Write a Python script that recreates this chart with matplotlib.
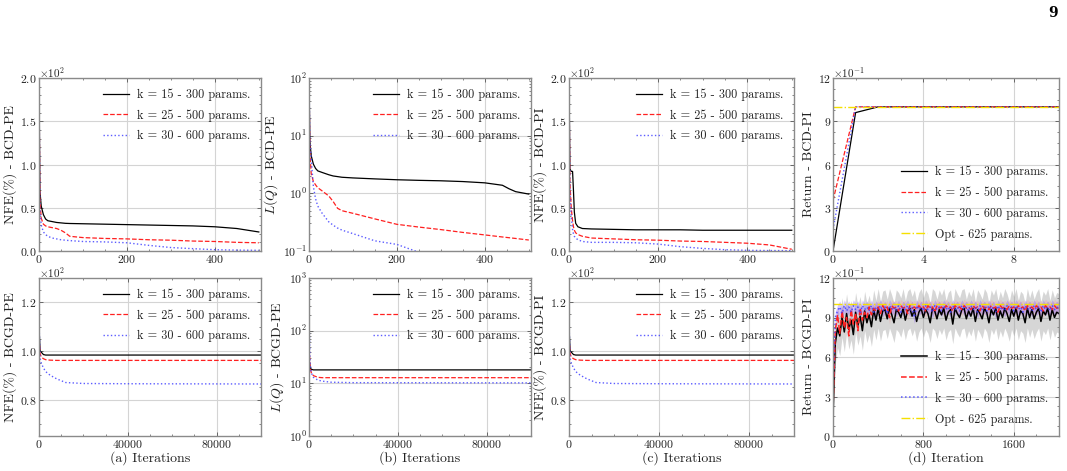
import numpy as np
import matplotlib
matplotlib.use("Agg")
import matplotlib.pyplot as plt
from matplotlib.ticker import MultipleLocator, AutoMinorLocator, ScalarFormatter, LogLocator, NullFormatter

plt.rcParams.update({
    "font.family": "serif",
    "font.serif": ["cmr10", "DejaVu Serif"],
    "mathtext.fontset": "cm",
    "axes.formatter.use_mathtext": True,
    "axes.unicode_minus": False,
    "font.size": 8.5,
})

labels = ["k = 15 - 300 params.",
          "k = 25 - 500 params.",
          "k = 30 - 600 params."]
opt_label = "Opt - 625 params."

# ---- top row: BCD ----
x_bcd_pe = [0, 2, 5, 10, 15, 20, 30, 40, 50, 60, 70, 100, 150, 200, 250, 300, 350, 400, 450, 500]
nfe_pe_k15 = [200, 70, 52, 42, 37, 35, 34, 33, 32.5, 32, 31.8, 31.5, 31, 30.5, 30, 29.5, 29, 28, 26, 22]
nfe_pe_k25 = [200, 60, 38, 31, 29, 28, 27, 26, 24, 21, 17, 15.5, 14.5, 14, 13, 12.5, 11.5, 11, 10, 9.5]
nfe_pe_k30 = [200, 50, 30, 22, 19, 17, 15, 14, 13, 12.5, 12, 11, 10.5, 9.5, 6.5, 4, 2.7, 1.5, 1, 0.8]

x_loss_pe = [0, 2, 5, 10, 15, 20, 30, 45, 55, 65, 75, 100, 150, 200, 250, 300, 350, 400, 440, 455, 470, 500]
loss_pe_k15 = [100, 8, 4.5, 3.2, 2.7, 2.45, 2.3, 2.1, 2.0, 1.95, 1.9, 1.85, 1.78, 1.72, 1.68, 1.65, 1.6, 1.52, 1.38, 1.2, 1.07, 0.97]
loss_pe_k25 = [100, 5, 2.2, 1.6, 1.4, 1.25, 1.1, 0.9, 0.72, 0.55, 0.5, 0.45, 0.36, 0.29, 0.26, 0.235, 0.21, 0.19, 0.175, 0.17, 0.165, 0.155]
loss_pe_k30 = [100, 8, 4, 1.3, 0.8, 0.6, 0.45, 0.32, 0.28, 0.25, 0.23, 0.2, 0.15, 0.13, 0.095, 0.08, 0.07, 0.06, 0.055, 0.05, 0.05, 0.05]

x_bcd_pi = [0, 2, 5, 8, 10, 12, 15, 20, 30, 50, 100, 150, 200, 250, 300, 350, 400, 450, 480, 500]
nfe_pi_k15 = [200, 95, 92, 92, 70, 45, 32, 28, 26, 25.5, 25, 24.5, 24.5, 24.5, 24, 24, 24, 24, 24, 24]
nfe_pi_k25 = [200, 80, 50, 35, 28, 24, 21, 19, 17, 15, 14, 13, 12.5, 11.5, 11, 10, 9, 7, 4, 2]
nfe_pi_k30 = [200, 70, 40, 25, 20, 17, 15, 13, 11, 10, 10, 9.5, 8, 5, 3, 1.5, 0.8, 0.5, 0.5, 0.3]

x_ret_bcd = [0, 1, 2, 3, 4, 5, 6, 7, 8, 9, 10]
ret_bcd_k15 = [0.0, 0.96, 1.0, 1.0, 1.0, 1.0, 1.0, 1.0, 1.0, 1.0, 1.0]
ret_bcd_k25 = [0.35, 1.0, 1.0, 1.0, 1.0, 1.0, 1.0, 1.0, 1.0, 1.0, 1.0]
ret_bcd_k30 = [0.15, 1.0, 1.0, 1.0, 1.0, 1.0, 1.0, 1.0, 1.0, 1.0, 1.0]
ret_bcd_opt = [1.0] * 11

# ---- bottom row: BCGD ----
x_bcgd = [0, 500, 1000, 2000, 3000, 5000, 8000, 12000, 20000, 40000, 100000]
nfe_bcgd_pe_k15 = [110, 100, 99.5, 98.5, 98.3, 98.3, 98.3, 98.3, 98.3, 98.3, 98.3]
nfe_bcgd_pe_k25 = [105, 99, 97.5, 96.8, 96.4, 96.2, 96.1, 96.1, 96.1, 96.1, 96.1]
nfe_bcgd_pe_k30 = [112, 97, 95, 93, 91.5, 90, 88.5, 87, 86.6, 86.5, 86.4]
nfe_bcgd_pi_k15 = [110, 100, 99.5, 98.5, 98.3, 98.3, 98.3, 98.3, 98.3, 98.3, 98.3]
nfe_bcgd_pi_k25 = [105, 99, 97.5, 96.8, 96.4, 96.2, 96.1, 96.1, 96.1, 96.1, 96.1]
nfe_bcgd_pi_k30 = [112, 97, 95, 93, 91.5, 90, 88.5, 87, 86.6, 86.5, 86.4]

x_loss_bcgd = [0, 500, 1000, 2000, 4000, 6000, 10000, 20000, 100000]
loss_bcgd_k15 = [30, 20, 18.5, 18, 18, 18, 18, 18, 18]
loss_bcgd_k25 = [60, 20, 16, 14, 13, 12.8, 12.8, 12.8, 12.8]
loss_bcgd_k30 = [170, 25, 16, 13, 11.5, 11, 10.5, 10.3, 10.2]

x_ret_bcgd = list(range(0, 2001, 20))
ret_bcgd_k15 = [
    0.15, 0.70, 0.82, 0.76, 0.90, 0.79, 0.93, 0.81, 0.88, 0.77, 0.94, 0.84, 0.91, 0.80, 0.95, 0.86, 0.92, 0.83, 0.96, 0.88,
    0.97, 0.87, 0.95, 0.96, 0.89, 0.97, 0.92, 0.86, 0.96, 0.94, 0.90, 0.97, 0.88, 0.95, 0.97, 0.91, 0.96, 0.87, 0.94, 0.97,
    0.90, 0.96, 0.93, 0.86, 0.97, 0.95, 0.89, 0.96, 0.92, 0.97, 0.88, 0.94, 0.96, 0.85, 0.97, 0.93, 0.90, 0.96, 0.97, 0.89,
    0.95, 0.91, 0.97, 0.87, 0.96, 0.93, 0.89, 0.97, 0.94, 0.86, 0.96, 0.92, 0.97, 0.88, 0.95, 0.90, 0.97, 0.93, 0.87, 0.96,
    0.91, 0.97, 0.88, 0.95, 0.93, 0.86, 0.97, 0.90, 0.96, 0.89, 0.94, 0.97, 0.87, 0.95, 0.92, 0.97, 0.88, 0.96, 0.90, 0.94, 0.93]
ret_bcgd_k25 = [
    0.20, 0.80, 0.92, 0.78, 0.95, 0.82, 0.90, 0.76, 0.96, 0.85, 0.93, 0.80, 0.97, 0.88, 0.94, 0.90, 0.98, 0.92, 0.97, 0.95,
    0.98, 0.93, 0.99, 0.96, 0.98, 0.90, 0.99, 0.97, 0.98, 0.95, 0.99, 0.97, 0.98, 0.93, 0.99, 0.97, 0.98, 0.96, 0.99, 0.97,
    0.98, 0.95, 0.99, 0.97, 0.98, 0.94, 0.99, 0.97, 0.98, 0.96, 0.99, 0.97, 0.98, 0.95, 0.99, 0.97, 0.98, 0.96, 0.99, 0.97,
    0.98, 0.96, 0.99, 0.97, 0.98, 0.95, 0.99, 0.97, 0.98, 0.96, 0.99, 0.97, 0.98, 0.94, 0.99, 0.97, 0.98, 0.96, 0.99, 0.97,
    0.98, 0.96, 0.99, 0.97, 0.98, 0.95, 0.99, 0.97, 0.98, 0.96, 0.99, 0.97, 0.98, 0.95, 0.99, 0.97, 0.98, 0.96, 0.99, 0.97, 0.98]
ret_bcgd_k30 = [
    0.35, 0.90, 0.95, 0.98, 0.93, 0.99, 0.95, 0.98, 0.94, 0.99, 0.96, 0.98, 0.93, 0.99, 0.96, 0.98, 0.95, 0.99, 0.94, 0.98,
    0.96, 0.99, 0.95, 0.98, 0.93, 0.99, 0.96, 0.98, 0.95, 0.99, 0.94, 0.98, 0.96, 0.99, 0.95, 0.98, 0.90, 0.99, 0.96, 0.98,
    0.95, 0.99, 0.96, 0.98, 0.94, 0.99, 0.96, 0.98, 0.95, 0.99, 0.96, 0.98, 0.94, 0.99, 0.96, 0.98, 0.95, 0.99, 0.96, 0.98,
    0.95, 0.99, 0.96, 0.98, 0.94, 0.99, 0.96, 0.98, 0.95, 0.99, 0.96, 0.98, 0.94, 0.99, 0.96, 0.98, 0.95, 0.99, 0.96, 0.98,
    0.95, 0.99, 0.96, 0.98, 0.94, 0.99, 0.96, 0.98, 0.95, 0.99, 0.96, 0.98, 0.94, 0.99, 0.96, 0.98, 0.95, 0.99, 0.96, 0.98, 0.96]
ret_bcgd_opt = [1.0] * len(x_ret_bcgd)
std_bcgd_k15 = 0.15
std_bcgd_k25 = 0.05
std_bcgd_k30 = 0.045

# ---- styling ----
W, H = 1067, 471
fig = plt.figure(figsize=(W / 100, H / 100), dpi=100)

cols = [(39, 261), (309, 531), (569, 794), (833, 1059)]
rows = [(78, 251), (278, 436)]

def make_ax(r, c):
    x0, x1 = cols[c]
    y0, y1 = rows[r]
    return fig.add_axes([x0 / W, 1 - y1 / H, (x1 - x0) / W, (y1 - y0) / H])

SP = "#8a8a8a"
TXT = "#222222"
styles = [dict(color="black", ls="-", lw=0.9),
          dict(color="#ff2020", ls="--", lw=0.9),
          dict(color="#4040ff", ls=":", lw=1.0, alpha=0.85)]
opt_style = dict(color="#f5e000", ls="-.", lw=1.0)

def style_ax(ax, log=False):
    for s in ax.spines.values():
        s.set_color(SP)
        s.set_linewidth(1.0)
    ax.tick_params(which="both", direction="in", top=True, right=True, colors="#555555",
                   labelcolor=TXT, labelsize=8.5, pad=1.5)
    ax.tick_params(which="major", length=3, width=0.6)
    ax.tick_params(which="minor", length=1.6, width=0.5)
    ax.grid(True, which="major", color="#d4d4d4", lw=0.8)
    ax.set_axisbelow(True)
    ax.xaxis.set_minor_locator(AutoMinorLocator())
    if not log:
        ax.yaxis.set_minor_locator(AutoMinorLocator())
    ax.yaxis.OFFSETTEXTPAD = 0.5
    ax.yaxis.get_offset_text().set_fontsize(8)
    ax.yaxis.get_offset_text().set_color(TXT)

def sci(ax, p):
    fmt = ScalarFormatter(useMathText=True)
    fmt.set_powerlimits((p, p))
    ax.yaxis.set_major_formatter(fmt)

def legend(ax, loc):
    ax.legend(loc=loc, frameon=False, fontsize=8.8, handlelength=2.1, labelspacing=0.7,
              borderaxespad=0.45, handletextpad=0.7, labelcolor=TXT)

def three(ax, x, ys, lw=None):
    for y, st, lb in zip(ys, styles, labels):
        st = dict(st)
        if lw:
            st["lw"] = lw
        ax.plot(x, y, label=lb, **st)

def ylab(ax, s):
    ax.set_ylabel(s, fontsize=10, color=TXT, labelpad=2)

def xlab(ax, s):
    ax.set_xlabel(s, fontsize=10, color=TXT, labelpad=1)

# (a) top
ax = make_ax(0, 0)
three(ax, x_bcd_pe, [nfe_pe_k15, nfe_pe_k25, nfe_pe_k30])
ax.set_xlim(0, 505); ax.set_ylim(0, 200)
ax.xaxis.set_major_locator(MultipleLocator(200)); ax.yaxis.set_major_locator(MultipleLocator(50))
sci(ax, 2); style_ax(ax)
ylab(ax, "NFE(%) - BCD-PE")
legend(ax, "upper right")

# (b) top
ax = make_ax(0, 1)
three(ax, x_loss_pe, [loss_pe_k15, loss_pe_k25, loss_pe_k30])
ax.set_yscale("log")
ax.set_xlim(0, 505); ax.set_ylim(0.1, 100)
ax.xaxis.set_major_locator(MultipleLocator(200))
style_ax(ax, log=True)
ax.yaxis.set_minor_locator(LogLocator(subs=np.arange(2, 10)))
ax.yaxis.set_minor_formatter(NullFormatter())
ylab(ax, "$L(Q)$ - BCD-PE")
legend(ax, "upper right")

# (c) top
ax = make_ax(0, 2)
three(ax, x_bcd_pi, [nfe_pi_k15, nfe_pi_k25, nfe_pi_k30])
ax.set_xlim(0, 505); ax.set_ylim(0, 200)
ax.xaxis.set_major_locator(MultipleLocator(200)); ax.yaxis.set_major_locator(MultipleLocator(50))
sci(ax, 2); style_ax(ax)
ylab(ax, "NFE(%) - BCD-PI")
legend(ax, "upper right")

# (d) top
ax = make_ax(0, 3)
three(ax, x_ret_bcd, [ret_bcd_k15, ret_bcd_k25, ret_bcd_k30])
ax.plot(x_ret_bcd, ret_bcd_opt, label=opt_label, **opt_style)
ax.set_xlim(0, 10); ax.set_ylim(0, 1.2)
ax.xaxis.set_major_locator(MultipleLocator(4)); ax.yaxis.set_major_locator(MultipleLocator(0.3))
sci(ax, -1); style_ax(ax)
ylab(ax, "Return - BCD-PI")
legend(ax, "lower right")

# (a) bottom
ax = make_ax(1, 0)
three(ax, x_bcgd, [nfe_bcgd_pe_k15, nfe_bcgd_pe_k25, nfe_bcgd_pe_k30])
ax.set_xlim(0, 100000); ax.set_ylim(65, 130)
ax.xaxis.set_major_locator(MultipleLocator(40000)); ax.yaxis.set_major_locator(MultipleLocator(20))
sci(ax, 2); style_ax(ax)
ylab(ax, "NFE(%) - BCGD-PE")
xlab(ax, "(a) Iterations")
legend(ax, "upper right")

# (b) bottom
ax = make_ax(1, 1)
three(ax, x_loss_bcgd, [loss_bcgd_k15, loss_bcgd_k25, loss_bcgd_k30])
ax.set_yscale("log")
ax.set_xlim(0, 100000); ax.set_ylim(1, 1000)
ax.xaxis.set_major_locator(MultipleLocator(40000))
style_ax(ax, log=True)
ax.yaxis.set_minor_locator(LogLocator(subs=np.arange(2, 10)))
ax.yaxis.set_minor_formatter(NullFormatter())
ylab(ax, "$L(Q)$ - BCGD-PE")
xlab(ax, "(b) Iterations")
legend(ax, "upper right")

# (c) bottom
ax = make_ax(1, 2)
three(ax, x_bcgd, [nfe_bcgd_pi_k15, nfe_bcgd_pi_k25, nfe_bcgd_pi_k30])
ax.set_xlim(0, 100000); ax.set_ylim(65, 130)
ax.xaxis.set_major_locator(MultipleLocator(40000)); ax.yaxis.set_major_locator(MultipleLocator(20))
sci(ax, 2); style_ax(ax)
ylab(ax, "NFE(%) - BCGD-PI")
xlab(ax, "(c) Iterations")
legend(ax, "upper right")

# (d) bottom
ax = make_ax(1, 3)
xr = np.array(x_ret_bcgd)
band_cols = ["#8c8c8c", "#ff8080", "#8a5cff"]
band_alpha = [0.35, 0.2, 0.35]
for y, sd, bc, ba in zip([ret_bcgd_k15, ret_bcgd_k25, ret_bcgd_k30],
                         [std_bcgd_k15, std_bcgd_k25, std_bcgd_k30], band_cols, band_alpha):
    y = np.array(y)
    ax.fill_between(xr, y - sd, y + sd, color=bc, alpha=ba, lw=0)
three(ax, xr, [ret_bcgd_k15, ret_bcgd_k25, ret_bcgd_k30], lw=1.1)
ax.plot(xr, ret_bcgd_opt, label=opt_label, **opt_style)
ax.set_xlim(0, 2000); ax.set_ylim(0, 1.2)
ax.xaxis.set_major_locator(MultipleLocator(800)); ax.yaxis.set_major_locator(MultipleLocator(0.3))
sci(ax, -1); style_ax(ax)
ylab(ax, "Return - BCGD-PI")
xlab(ax, "(d) Iteration")
legend(ax, "lower right")

fig.text(1053 / W, 1 - 13 / H, "9", fontsize=10, fontweight="bold", ha="center", va="center",
         family="DejaVu Serif")

fig.savefig("out.png", dpi=100)
